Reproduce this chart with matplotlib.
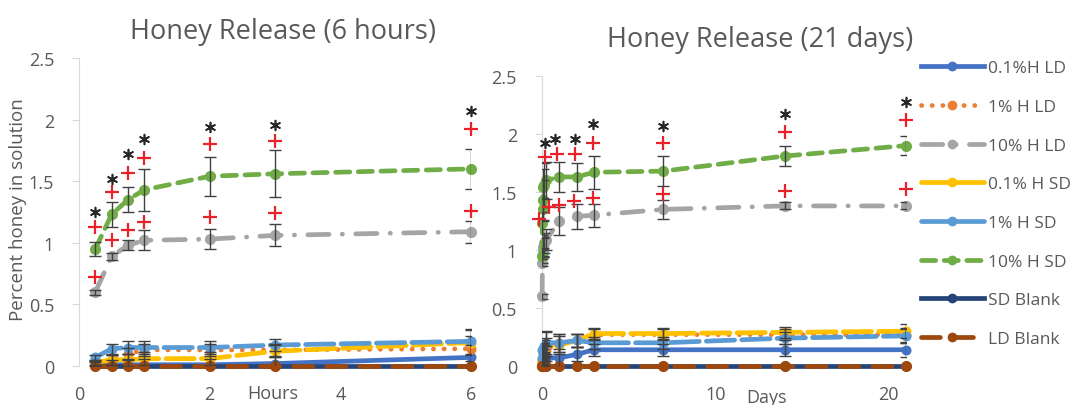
import numpy as np
import matplotlib
matplotlib.use("Agg")
import matplotlib.pyplot as plt
from matplotlib.lines import Line2D

plt.rcParams["font.family"] = ["Open Sans", "DejaVu Sans"]

# ---- 6 hour panel data ----
hours = [0.25, 0.5, 0.75, 1, 2, 3, 6]
h_ld01 = [0.01, 0.01, 0.01, 0.01, 0.01, 0.02, 0.07]
h_ld1 = [0.02, 0.05, 0.10, 0.13, 0.13, 0.13, 0.14]
h_ld10 = [0.60, 0.89, 0.98, 1.02, 1.03, 1.06, 1.09]
h_sd01 = [0.03, 0.05, 0.05, 0.06, 0.06, 0.12, 0.19]
h_sd1 = [0.07, 0.14, 0.15, 0.15, 0.15, 0.17, 0.20]
h_sd10 = [0.95, 1.23, 1.35, 1.43, 1.54, 1.56, 1.60]
h_sdb = [0, 0, 0, 0, 0, 0, 0]
h_ldb = [0, 0, 0, 0, 0, 0, 0]
h_err_ld10 = [0.02, 0.03, 0.04, 0.08, 0.08, 0.09, 0.09]
h_err_sd10 = [0.06, 0.10, 0.10, 0.17, 0.16, 0.19, 0.16]
h_err_low = [0.02, 0.04, 0.05, 0.05, 0.05, 0.05, 0.10]

h_star_x = [0.25, 0.5, 0.75, 1, 2, 3, 6]
h_star_y = [1.25, 1.52, 1.72, 1.84, 1.94, 1.96, 2.07]
h_plus_x = [0.25, 0.5, 0.75, 1, 2, 3, 6, 0.25, 0.5, 0.75, 1, 2, 3, 6]
h_plus_y = [1.13, 1.41, 1.57, 1.69, 1.80, 1.83, 1.92,
            0.72, 1.02, 1.10, 1.17, 1.21, 1.24, 1.26]

# ---- 21 day panel data ----
days = [0.0104, 0.0208, 0.0313, 0.0417, 0.0833, 0.125, 0.25, 1, 2, 3, 7, 14, 21]
d_ld01 = [0.01, 0.02, 0.02, 0.03, 0.03, 0.05, 0.07, 0.07, 0.10, 0.14, 0.14, 0.14, 0.14]
d_ld1 = [0.02, 0.05, 0.10, 0.13, 0.13, 0.13, 0.14, 0.20, 0.22, 0.27, 0.27, 0.27, 0.27]
d_ld10 = [0.60, 0.89, 0.98, 1.02, 1.03, 1.06, 1.09, 1.25, 1.29, 1.30, 1.35, 1.38, 1.38]
d_sd01 = [0.03, 0.05, 0.05, 0.06, 0.06, 0.12, 0.19, 0.18, 0.22, 0.28, 0.28, 0.29, 0.30]
d_sd1 = [0.07, 0.14, 0.15, 0.15, 0.15, 0.17, 0.20, 0.20, 0.22, 0.20, 0.20, 0.24, 0.26]
d_sd10 = [0.95, 1.23, 1.35, 1.43, 1.54, 1.56, 1.60, 1.63, 1.63, 1.67, 1.68, 1.81, 1.90]
d_sdb = [0] * 13
d_ldb = [0] * 13
d_err_ld10 = [0.02, 0.03, 0.04, 0.08, 0.08, 0.09, 0.09, 0.12, 0.11, 0.10, 0.08, 0.03, 0.03]
d_err_sd10 = [0.06, 0.10, 0.10, 0.17, 0.16, 0.19, 0.16, 0.13, 0.12, 0.14, 0.13, 0.09, 0.08]
d_err_low = [0.02, 0.04, 0.05, 0.05, 0.05, 0.05, 0.10, 0.08, 0.06, 0.05, 0.05, 0.05, 0.06]

d_star_x = [0.19, 0.77, 1.92, 2.92, 7, 14, 21]
d_star_y = [1.92, 1.96, 1.96, 2.09, 2.07, 2.17, 2.28]
d_plus_x = [0.19, 0.87, 1.92, 2.92, 7, 14, 21,
            -0.15, 0.38, 0.96, 1.83, 2.92, 7, 14, 21]
d_plus_y = [1.80, 1.83, 1.83, 1.92, 1.92, 2.02, 2.12,
            1.27, 1.37, 1.39, 1.42, 1.45, 1.48, 1.51, 1.53]

labels = ["0.1%H LD", "1% H LD", "10% H LD", "0.1% H SD",
          "1% H SD", "10% H SD", "SD Blank", "LD Blank"]
colors = ["#4472C4", "#ED7D31", "#A5A5A5", "#FFC000",
          "#5B9BD5", "#70AD47", "#264478", "#9E480E"]
styles = ["-", (0, (0.05, 2.2)), (0, (4.5, 2.8, 0.05, 2.8)), (0, (6, 1.5)),
          (0, (6, 1.5)), (0, (3, 1.8)), "-", (0, (4, 3))]
TXT = "#595959"


def draw(ax, x, series, errs, star_x, star_y, plus_x, plus_y):
    order = [7, 6, 0, 1, 3, 4, 2, 5]
    for i in order:
        y = series[i]
        ax.plot(x, y, color=colors[i], ls=styles[i], lw=3.4, marker="o",
                ms=7 if i in (2, 5, 7) else 6.2, clip_on=False,
                dash_capstyle="round", zorder=3 + i * 0.1)
        e = errs[i]
        if e is not None:
            ax.errorbar(x, y, yerr=e, fmt="none", ecolor="#404040",
                        elinewidth=1, capsize=4, capthick=1, zorder=5)
    ax.scatter(star_x, star_y, marker=(6, 2, 0), s=50, color="#262626",
               lw=1.2, zorder=6, clip_on=False)
    ax.scatter(plus_x, plus_y, marker="+", s=90, color="#E8212B",
               lw=1.6, zorder=6, clip_on=False)
    ax.set_ylim(0, 2.5)
    ax.set_yticks([0, 0.5, 1, 1.5, 2, 2.5])
    ax.set_yticklabels(["0", "0.5", "1", "1.5", "2", "2.5"])
    for s in ["top", "right", "bottom"]:
        ax.spines[s].set_visible(False)
    ax.spines["left"].set_color("#D9D9D9")
    ax.tick_params(axis="y", colors="#D9D9D9", labelcolor=TXT, labelsize=13,
                   length=5, direction="out", pad=13)
    ax.tick_params(axis="x", length=0, labelcolor=TXT, labelsize=13, pad=14)


fig = plt.figure(figsize=(10.8, 4.06), dpi=100)
ax1 = fig.add_axes([79 / 1080, 39 / 406, 392 / 1080, 308 / 406])
ax2 = fig.add_axes([542 / 1080, 39 / 406, 364 / 1080, 290 / 406])

h_series = [h_ld01, h_ld1, h_ld10, h_sd01, h_sd1, h_sd10, h_sdb, h_ldb]
h_errs = [h_err_low, h_err_low, h_err_ld10, h_err_low, h_err_low, h_err_sd10, None, None]
draw(ax1, hours, h_series, h_errs, h_star_x, h_star_y, h_plus_x, h_plus_y)
ax1.set_xlim(0, 6)
ax1.set_xticks([0, 2, 4, 6])

d_series = [d_ld01, d_ld1, d_ld10, d_sd01, d_sd1, d_sd10, d_sdb, d_ldb]
d_errs = [d_err_low, d_err_low, d_err_ld10, d_err_low, d_err_low, d_err_sd10, None, None]
draw(ax2, days, d_series, d_errs, d_star_x, d_star_y, d_plus_x, d_plus_y)
ax2.set_xlim(0, 21)
ax2.set_xticks([0, 10, 20])

fig.text(18 / 1080, 1 - 210 / 406, "Percent honey in solution", rotation=90,
         ha="center", va="center", fontsize=13.5, color=TXT)

fig.text(283 / 1080, 1 - 32 / 406, "Honey Release (6 hours)", ha="center",
         va="center", fontsize=19.5, color=TXT)
fig.text(760 / 1080, 1 - 40 / 406, "Honey Release (21 days)", ha="center",
         va="center", fontsize=19.5, color=TXT)
fig.text(273 / 1080, 1 - 394 / 406, "Hours", ha="center", va="center",
         fontsize=13, color=TXT)
fig.text(767 / 1080, 1 - 398 / 406, "Days", ha="center", va="center",
         fontsize=13, color=TXT)

handles = [Line2D([0], [0], color=c, ls=s, lw=3.4, marker="o", ms=6,
                  dash_capstyle="round")
           for c, s in zip(colors, styles)]
fig.legend(handles, labels, loc="upper left", bbox_to_anchor=(921 / 1080, 1 - 61 / 406),
           frameon=False, fontsize=12.5, labelcolor=TXT, handlelength=3.6,
           handletextpad=0.25, labelspacing=1.3, borderpad=0, borderaxespad=0)

fig.savefig("out.png", dpi=100)
